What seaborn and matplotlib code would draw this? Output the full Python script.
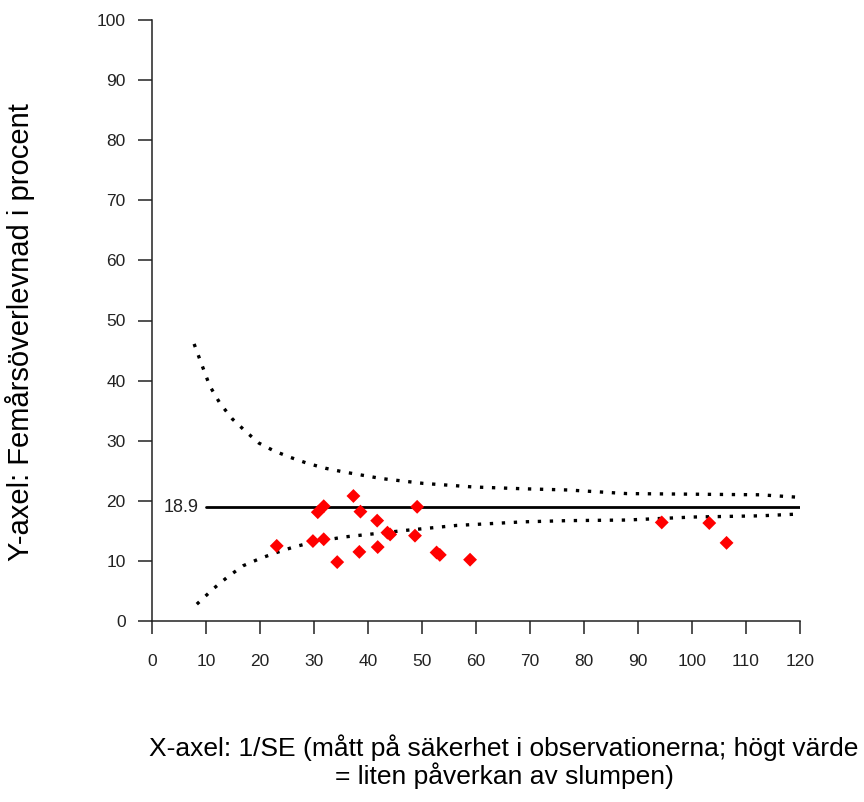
import matplotlib
matplotlib.use("Agg")
import matplotlib.pyplot as plt
import seaborn as sns
import pandas as pd

# Observed units: precision (1/SE) and five-year survival (%)
inv_se = [23.1, 29.8, 31.8, 30.7, 31.8, 34.3, 37.3, 38.6, 38.4, 41.7, 41.8,
          43.6, 44.1, 48.7, 49.1, 52.7, 53.3, 58.9, 94.4, 103.2, 106.4]
survival = [12.5, 13.3, 13.6, 18.1, 19.1, 9.8, 20.8, 18.2, 11.5, 16.7, 12.3,
            14.7, 14.4, 14.2, 19.0, 11.4, 11.0, 10.2, 16.4, 16.3, 13.0]

# Funnel control limits
upper_x = [7.8, 9.2, 10.7, 12.6, 14.9, 17.4, 19.8, 22.6, 25.7, 28.9, 32.2,
           35.5, 42.5, 50.2, 59.5, 68.8, 77.0, 87.9, 100.2, 112.6, 119.5]
upper_y = [46.1, 42.7, 39.1, 36.2, 33.6, 31.5, 29.6, 28.3, 27.2, 26.2, 25.4,
           24.8, 23.7, 22.9, 22.3, 22.0, 21.8, 21.2, 21.1, 21.0, 20.6]
lower_x = [8.3, 11.4, 14.1, 16.9, 20.0, 23.1, 26.2, 29.3, 33.0, 35.8, 47.2,
           56.4, 68.8, 77.0, 87.9, 100.2, 112.6, 119.8]
lower_y = [2.8, 5.4, 7.4, 9.2, 10.4, 11.4, 12.3, 13.0, 13.6, 14.0, 15.1,
           15.9, 16.5, 16.7, 16.8, 17.3, 17.5, 17.8]

# Overall mean
mean_value = 18.9
mean_x = [10, 120]

x_ticks = list(range(0, 121, 10))
y_ticks = list(range(0, 101, 10))

sns.set_style("ticks")
plt.rcParams["font.family"] = ["Liberation Sans", "DejaVu Sans"]

fig = plt.figure(figsize=(8.64, 8.02), dpi=100)
ax = fig.add_axes([152 / 864, 1 - 621 / 802, 648 / 864, 601 / 802])

dotted = (0, (1, 2.6))
sns.lineplot(x=upper_x, y=upper_y, ax=ax, color="black", lw=2.4,
             linestyle=dotted, estimator=None)
sns.lineplot(x=lower_x, y=lower_y, ax=ax, color="black", lw=2.4,
             linestyle=dotted, estimator=None)
sns.lineplot(x=mean_x, y=[mean_value] * len(mean_x), ax=ax, color="black",
             lw=2.0, estimator=None)

points = pd.DataFrame({"inv_se": inv_se, "survival": survival})
sns.scatterplot(data=points, x="inv_se", y="survival", ax=ax, marker="D",
                s=50, color="#ff0000", edgecolor="none", zorder=5)

ax.annotate(f"{mean_value}", xy=(mean_x[0], mean_value), xytext=(-5, 0),
            textcoords="offset points", ha="right", va="center",
            fontsize=13, color="#222222")

ax.set_xlim(0, 120)
ax.set_ylim(0, 100)
ax.set_xticks(x_ticks)
ax.set_yticks(y_ticks)
ax.tick_params(axis="x", length=9, width=1.1, pad=15, labelsize=12.5,
               colors="#222222")
ax.tick_params(axis="y", length=10, width=1.1, pad=9, labelsize=12.5,
               colors="#222222")
for side in ("top", "right"):
    ax.spines[side].set_visible(False)
for side in ("left", "bottom"):
    ax.spines[side].set_linewidth(1.1)
    ax.spines[side].set_color("#222222")
ax.set_xlabel("")
ax.set_ylabel("")

fig.text(20 / 864, 1 - 332 / 802, "Y-axel: Femårsöverlevnad i procent",
         rotation=90, ha="center", va="center", fontsize=21, color="black")
fig.text(504 / 864, 1 - 762 / 802,
         "X-axel: 1/SE (mått på säkerhet i observationerna; högt värde\n"
         "= liten påverkan av slumpen)",
         ha="center", va="center", fontsize=19, linespacing=1.05,
         multialignment="center", color="black")

fig.savefig("out.png", dpi=100)
